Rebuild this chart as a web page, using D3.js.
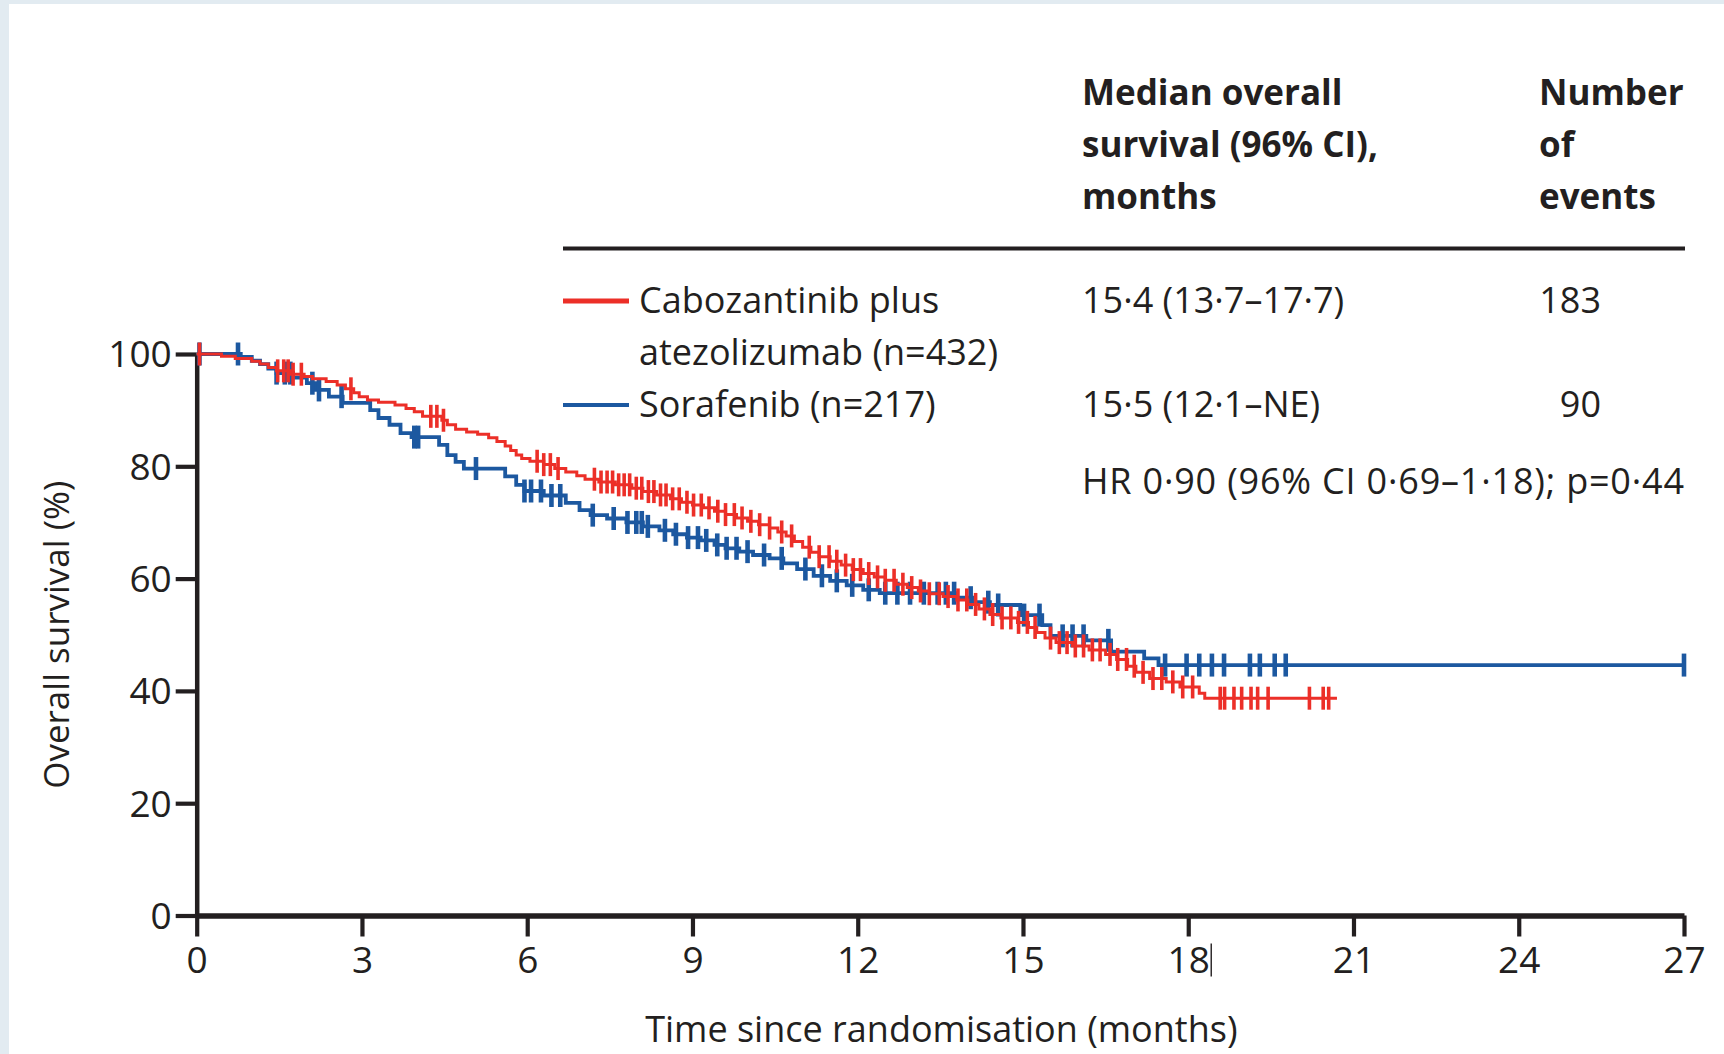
<!DOCTYPE html>
<html>
<head>
<meta charset="utf-8">
<script src="https://cdn.jsdelivr.net/npm/d3@7"></script>
<style>
  html, body { margin: 0; padding: 0; background: #e2ebf1; }
  svg { display: block; }
  text { font-family: "Open Sans", "Noto Sans", sans-serif; fill: #231f20; }
</style>
</head>
<body>
<svg id="chart" width="1724" height="1054"></svg>
<script>
// ---- axis ticks ----
const monthTicks = [0, 3, 6, 9, 12, 15, 18, 21, 24, 27];
const survivalTicks = [0, 20, 40, 60, 80, 100];

// ---- Kaplan-Meier steps: cabozantinib plus atezolizumab ----
const caboTimes = [0, 0.45, 0.7, 1.0, 1.15, 1.3, 1.45, 1.7, 1.95, 2.1, 2.35, 2.55, 2.7, 2.85, 2.95,
  3.1, 3.3, 3.6, 3.8, 3.95, 4.1, 4.45, 4.55, 4.7, 4.9, 5.1, 5.3, 5.45, 5.6, 5.7, 5.8, 5.9,
  6.05, 6.3, 6.5, 6.7, 6.9, 7.05, 7.3, 7.6, 7.9, 8.1, 8.35, 8.6, 8.8, 9.0, 9.2, 9.4, 9.6, 9.8,
  10.0, 10.2, 10.4, 10.55, 10.7, 10.85, 11.0, 11.15, 11.3, 11.5, 11.7, 11.9, 12.1, 12.3, 12.5,
  12.7, 12.9, 13.1, 13.3, 13.55, 13.8, 14.0, 14.2, 14.4, 14.6, 14.9, 15.1, 15.25, 15.4, 15.6,
  15.9, 16.2, 16.5, 16.7, 16.9, 17.05, 17.3, 17.6, 17.85, 18.2, 18.3];
const caboSurvival = [100, 99.6, 99.2, 98.7, 98.2, 97.6, 97.0, 96.4, 96.0, 95.6, 95.1, 94.5, 93.8, 93.1, 92.4,
  91.8, 91.4, 90.9, 90.3, 89.7, 88.9, 88.2, 87.4, 86.6, 86.1, 85.7, 85.1, 84.4, 83.6, 82.8, 82.0, 81.4,
  80.9, 80.3, 79.6, 79.0, 78.3, 77.7, 77.2, 76.7, 76.1, 75.5, 74.9, 74.2, 73.6, 73.1, 72.6, 72.0, 71.4, 70.8,
  70.2, 69.6, 69.0, 68.3, 67.6, 66.6, 65.6, 64.7, 63.9, 63.1, 62.4, 61.6, 60.9, 60.3, 59.7,
  59.0, 58.4, 57.8, 57.3, 56.8, 56.2, 55.4, 54.6, 53.6, 53.0, 52.2, 51.3, 50.4, 49.4, 48.6,
  48.0, 47.3, 46.5, 45.6, 44.4, 43.3, 42.2, 41.6, 40.7, 39.6, 38.7];
const caboLastFollowUp = 20.7;
const caboCensored = [0.05, 1.47, 1.58, 1.66, 1.75, 1.9, 2.8, 4.25, 4.36, 4.48, 6.18, 6.3, 6.42, 6.56,
  7.22, 7.34, 7.45, 7.55, 7.66, 7.76, 7.86, 7.98, 8.08, 8.2, 8.3, 8.42, 8.52, 8.64, 8.76, 8.9, 9.02,
  9.16, 9.3, 9.46, 9.6, 9.76, 9.9, 10.06, 10.22, 10.4, 10.62, 10.8, 11.12, 11.3, 11.48, 11.62, 11.78,
  11.92, 12.05, 12.2, 12.36, 12.5, 12.66, 12.82, 12.98, 13.14, 13.3, 13.48, 13.64, 13.82, 13.98, 14.14,
  14.3, 14.45, 14.62, 14.78, 14.92, 15.08, 15.22, 15.5, 15.66, 15.8, 15.95, 16.1, 16.26, 16.4, 16.58,
  16.72, 16.88, 17.02, 17.18, 17.36, 17.52, 17.72, 17.9, 18.08, 18.58, 18.66, 18.83, 18.97, 19.14,
  19.26, 19.45, 20.2, 20.45, 20.55];

// ---- Kaplan-Meier steps: sorafenib ----
const soraTimes = [0, 0.8, 1.0, 1.15, 1.3, 1.45, 1.75, 2.0, 2.15, 2.4, 2.65, 3.15, 3.3, 3.5, 3.7, 3.9,
  4.4, 4.55, 4.7, 4.85, 5.6, 5.8, 5.95, 6.3, 6.7, 6.95, 7.15, 7.45, 7.8, 8.1, 8.4, 8.65, 8.9,
  9.15, 9.4, 9.6, 9.85, 10.1, 10.4, 10.65, 10.9, 11.2, 11.5, 11.8, 12.1, 12.4, 13.8, 14.1, 14.4,
  14.95, 15.35, 15.5, 16.15, 16.6, 17.2, 17.46];
const soraSurvival = [100, 99.5, 98.8, 98.2, 97.4, 96.6, 95.8, 94.8, 93.6, 92.4, 91.3, 90.0, 88.6, 87.4, 85.9, 85.2,
  83.8, 82.0, 80.8, 79.6, 78.2, 76.7, 75.6, 74.8, 73.5, 72.2, 71.3, 70.7, 70.0, 69.3, 68.6, 67.9, 67.3,
  66.8, 66.0, 65.4, 64.8, 64.2, 63.6, 62.7, 61.7, 60.5, 59.6, 58.8, 58.0, 57.4, 56.6, 55.8, 55.3,
  53.5, 51.7, 49.8, 49.0, 47.0, 45.8, 44.6];
const soraLastFollowUp = 27;
const soraCensored = [0.05, 0.75, 1.45, 1.6, 1.7, 2.1, 2.22, 2.63, 3.95, 4.02, 5.07, 5.95, 6.07, 6.25,
  6.44, 6.6, 7.19, 7.57, 7.82, 7.98, 8.08, 8.19, 8.5, 8.7, 8.92, 9.1, 9.25, 9.45, 9.62, 9.8, 10.0,
  10.3, 10.62, 11.05, 11.35, 11.62, 11.9, 12.2, 12.5, 12.72, 12.95, 13.2, 13.45, 13.6, 13.75, 14.05,
  14.37, 14.55, 15.02, 15.3, 15.72, 15.9, 16.1, 16.55, 17.58, 17.97, 18.2, 18.43, 18.65, 19.12, 19.3,
  19.57, 19.77, 27.0];

// ---- summary table ----
const medianHeader = ["Median overall", "survival (96% CI),", "months"];
const eventsHeader = ["Number", "of", "events"];
const armLabels = [["Cabozantinib plus", "atezolizumab (n=432)"], ["Sorafenib (n=217)"]];
const armMedians = ["15·4 (13·7–17·7)", "15·5 (12·1–NE)"];
const armEvents = ["183", "90"];
const hazardRatio = "HR 0·90 (96% CI 0·69–1·18); p=0·44";
const yTitle = "Overall survival (%)";
const xTitle = "Time since randomisation (months)";

const RED = "#ec2f28";
const BLUE = "#1c58a0";
const INK = "#231f20";
const BODY_SIZE = 36;
const TICK_SIZE = 37;

const svg = d3.select("#chart");

// white figure panel inside the pale frame
svg.append("rect").attr("x", 9).attr("y", 4).attr("width", 1724 - 9).attr("height", 1054 - 4)
  .attr("fill", "#ffffff");

const x = d3.scaleLinear().domain([0, 27]).range([196.7, 1684]);
const y = d3.scaleLinear().domain([0, 100]).range([915.5, 354]);

// ---- axes ----
const yAxis = svg.append("g").attr("transform", `translate(${x(0)},0)`)
  .call(d3.axisLeft(y).tickValues(survivalTicks).tickSize(21).tickSizeOuter(0).tickPadding(4));
yAxis.select(".domain").attr("stroke", INK).attr("stroke-width", 4.5);
yAxis.selectAll(".tick line").attr("stroke", INK).attr("stroke-width", 4.2);
yAxis.selectAll(".tick text").attr("font-size", TICK_SIZE).attr("font-family", "Open Sans")
  .attr("fill", INK).attr("dy", "0.35em");

const xAxis = svg.append("g").attr("transform", `translate(0,${y(0)})`)
  .call(d3.axisBottom(x).tickValues(monthTicks).tickSize(21).tickSizeOuter(0).tickPadding(10));
xAxis.select(".domain").attr("stroke", INK).attr("stroke-width", 5.5);
xAxis.selectAll(".tick line").attr("stroke", INK).attr("stroke-width", 4.2);
xAxis.selectAll(".tick text").attr("font-size", TICK_SIZE).attr("font-family", "Open Sans").attr("fill", INK);

// thin stroke printed just after the "18" label
svg.append("line")
  .attr("x1", x(18) + 23).attr("x2", x(18) + 23)
  .attr("y1", y(0) + 28).attr("y2", y(0) + 61)
  .attr("stroke", INK).attr("stroke-width", 1.4);

// axis titles
svg.append("text")
  .attr("transform", `translate(69,${(y(0) + y(100)) / 2}) rotate(-90)`)
  .attr("text-anchor", "middle").attr("font-size", 35).text(yTitle);
svg.append("text")
  .attr("x", (x(0) + x(27)) / 2 + 1).attr("y", 1042)
  .attr("text-anchor", "middle").attr("font-size", BODY_SIZE).text(xTitle);

// ---- survival curves ----
function stepPoints(times, surv, end) {
  const pts = times.map((t, i) => [t, surv[i]]);
  pts.push([end, surv[surv.length - 1]]);
  return pts;
}
function survivalAt(times, surv, t) {
  const i = d3.bisectRight(times, t) - 1;
  return surv[Math.max(0, i)];
}
const line = d3.line().x(d => x(d[0])).y(d => y(d[1])).curve(d3.curveStepAfter);

const arms = [
  { times: soraTimes, surv: soraSurvival, end: soraLastFollowUp, censored: soraCensored,
    color: BLUE, width: 3.8, tickWidth: 4.6 },
  { times: caboTimes, surv: caboSurvival, end: caboLastFollowUp, censored: caboCensored,
    color: RED, width: 3.0, tickWidth: 3.6 }
];

arms.forEach(arm => {
  const g = svg.append("g");
  g.append("path")
    .attr("d", line(stepPoints(arm.times, arm.surv, arm.end)))
    .attr("fill", "none").attr("stroke", arm.color).attr("stroke-width", arm.width)
    .attr("stroke-linejoin", "miter");
  g.selectAll("line.censor").data(arm.censored).join("line")
    .attr("class", "censor")
    .attr("x1", d => x(d)).attr("x2", d => x(d))
    .attr("y1", d => y(survivalAt(arm.times, arm.surv, d)) - 11.5)
    .attr("y2", d => y(survivalAt(arm.times, arm.surv, d)) + 11.5)
    .attr("stroke", arm.color).attr("stroke-width", arm.tickWidth);
});

// ---- summary table and legend ----
const colMedian = 1082, colEvents = 1539, eventsRight = 1601;
const headerBase = [105, 157, 209];
medianHeader.forEach((t, i) => svg.append("text").attr("x", colMedian).attr("y", headerBase[i])
  .attr("font-size", 35).attr("font-weight", 700).text(t));
eventsHeader.forEach((t, i) => svg.append("text").attr("x", colEvents).attr("y", headerBase[i])
  .attr("font-size", 35).attr("font-weight", 700).text(t));

svg.append("line").attr("x1", 563).attr("x2", 1685).attr("y1", 248.5).attr("y2", 248.5)
  .attr("stroke", INK).attr("stroke-width", 4);

const rowBase = [313, 417];
const legendColors = [RED, BLUE];
const legendWidths = [5, 4];
armLabels.forEach((lines, i) => {
  svg.append("line").attr("x1", 563).attr("x2", 629)
    .attr("y1", rowBase[i] - 12).attr("y2", rowBase[i] - 12)
    .attr("stroke", legendColors[i]).attr("stroke-width", legendWidths[i]);
  lines.forEach((t, j) => svg.append("text").attr("x", 639).attr("y", rowBase[i] + j * 52)
    .attr("font-size", BODY_SIZE).text(t));
  svg.append("text").attr("x", colMedian).attr("y", rowBase[i]).attr("font-size", BODY_SIZE).text(armMedians[i]);
  svg.append("text").attr("x", eventsRight).attr("y", rowBase[i]).attr("text-anchor", "end")
    .attr("font-size", BODY_SIZE).text(armEvents[i]);
});
svg.append("text").attr("x", colMedian).attr("y", 494).attr("font-size", BODY_SIZE)
  .attr("textLength", 602).attr("lengthAdjust", "spacing").text(hazardRatio);
</script>
</body>
</html>
